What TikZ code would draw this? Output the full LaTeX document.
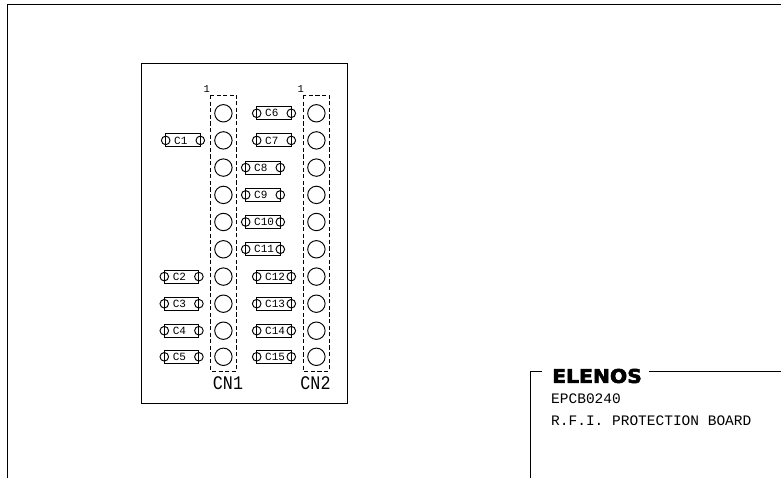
\documentclass[tikz,border=0pt]{standalone}
\usepackage{fontspec}
\setmainfont{Liberation Mono}
\newfontfamily\logofont[FakeBold=3]{DejaVu Sans Bold}
\tikzset{
  px/.style={x=1pt,y=-1pt},
  ln/.style={draw=black,line width=0.95pt},
  conn/.style={ln,dash pattern=on 4.2pt off 2.4pt},
  lbl/.style={inner sep=0pt,font=\fontsize{11}{12}\selectfont,text=black},
  big/.style={inner sep=0pt,yscale=1.15,font=\fontsize{16.7}{18}\selectfont,text=black},
  title/.style={inner sep=0pt,anchor=west,font=\fontsize{14.5}{16}\selectfont,text=black},
}
\newcommand{\capac}[3]{% left x, y, name
  \draw[ln] (#1,#2-6.5) rectangle (#1+34.6,#2+6.5);
  \draw[ln] (#1,#2) circle (4.3);
  \draw[ln] (#1+34.6,#2) circle (4.3);
  \node[lbl,anchor=west] (#3) at (#1+8.3,#2) {#3};
}
\begin{document}
\begin{tikzpicture}[px]
\useasboundingbox (0,0) rectangle (781,478);
\fill[white] (0,0) rectangle (781,478);
% sheet frame
\draw[ln] (7.5,478) -- (7.5,4) -- (781,4);
% board
\draw[ln] (141,63) rectangle (347,403);
% connectors
\draw[conn] (210.7,95) rectangle (236.7,371);
\draw[conn] (303,95) rectangle (329,371);
\foreach \y in {113.3,140.4,167.6,194.9,222,249.3,276.6,303.7,330.7,356.8}{
  \draw[ln] (223.4,\y) circle (8.7);
  \draw[ln] (316.4,\y) circle (8.7);
}
\node[lbl,font=\fontsize{10.5}{11}\selectfont] (one1) at (206.8,89) {1};
\node[lbl,font=\fontsize{10.5}{11}\selectfont] (one2) at (300.8,89) {1};
\node[big] (CN1) at (228,383) {CN1};
\node[big] (CN2) at (315.5,383) {CN2};
% capacitors
\capac{165.7}{140.4}{C1}
\capac{164.3}{276.6}{C2}
\capac{164.3}{303.7}{C3}
\capac{164.3}{330.7}{C4}
\capac{164.3}{356.8}{C5}
\capac{256.7}{113.3}{C6}
\capac{256.7}{140.4}{C7}
\capac{245.7}{167.6}{C8}
\capac{245.7}{194.9}{C9}
\capac{245.7}{222}{C10}
\capac{245.7}{249.3}{C11}
\capac{256.7}{276.6}{C12}
\capac{256.7}{303.7}{C13}
\capac{256.7}{330.7}{C14}
\capac{256.7}{356.8}{C15}
% title block
\draw[ln] (530.5,478) -- (530.5,371) -- (541.7,371);
\draw[ln] (649,371) -- (781,371);
\node[inner sep=0pt,anchor=west,xscale=1.07,font=\logofont\fontsize{19}{19}\selectfont] (logo) at (552,376) {ELENOS};
\node[title] (code) at (551,399) {EPCB0240};
\node[title] (name) at (551,421) {R.F.I. PROTECTION BOARD};
\end{tikzpicture}
\end{document}
